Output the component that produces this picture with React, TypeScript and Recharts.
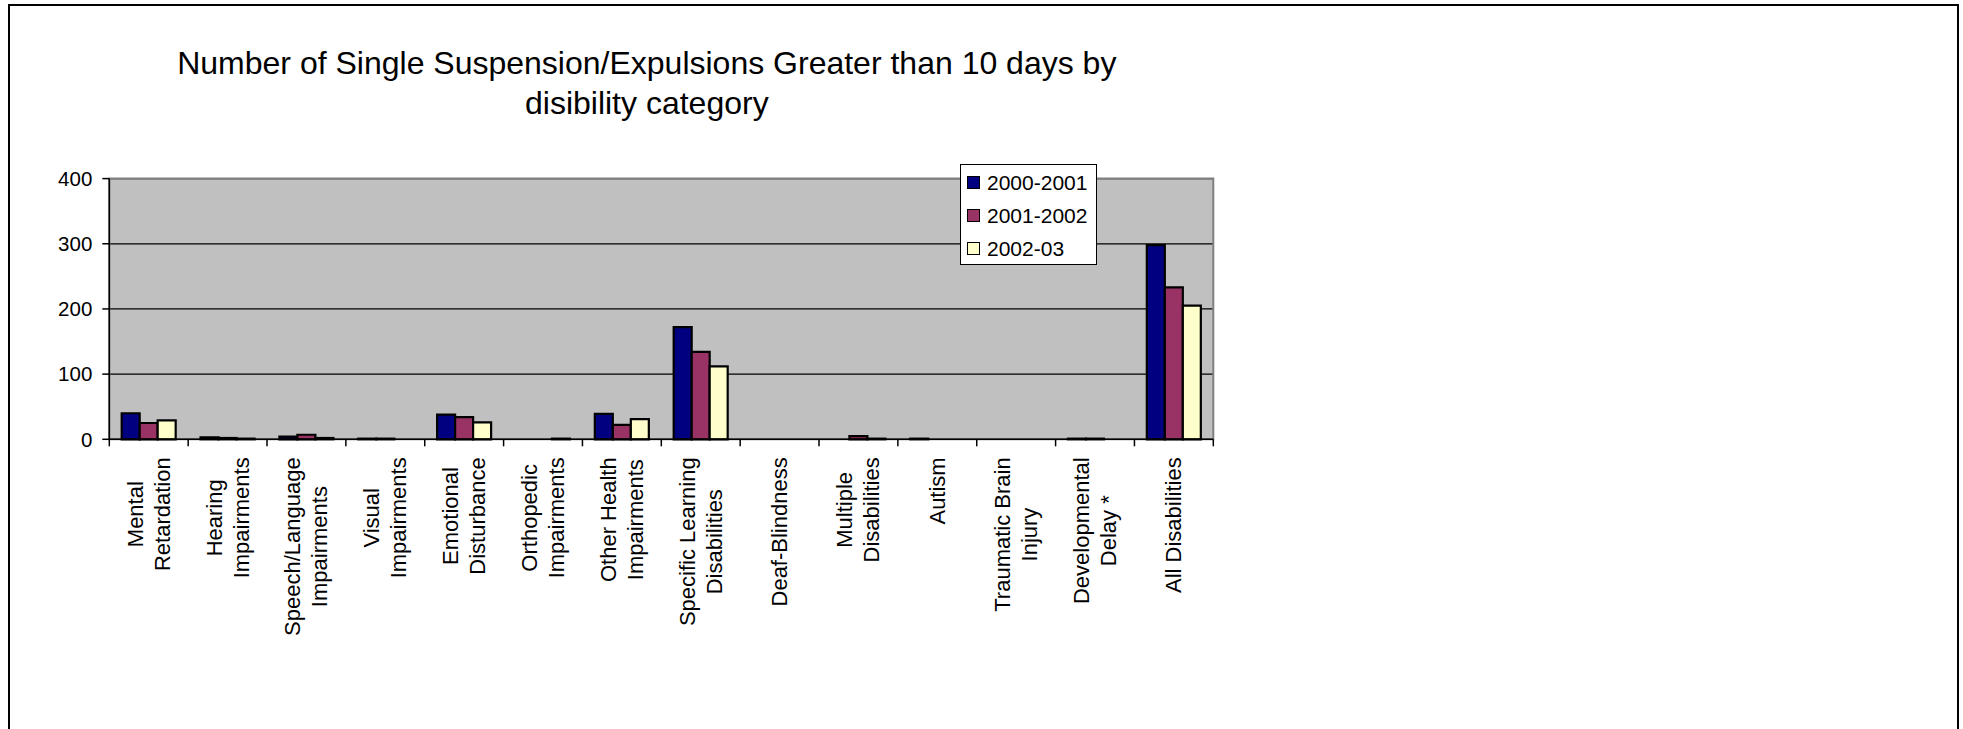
import React from "react";
import {
  BarChart,
  Bar,
  XAxis,
  YAxis,
  CartesianGrid,
  Legend,
  ReferenceArea,
} from "recharts";

// Disability categories (line breaks mark the wrapped axis labels)
const categories = [
  "Mental\nRetardation",
  "Hearing\nImpairments",
  "Speech/Language\nImpairments",
  "Visual\nImpairments",
  "Emotional\nDisturbance",
  "Orthopedic\nImpairments",
  "Other Health\nImpairments",
  "Specific Learning\nDisabilities",
  "Deaf-Blindness",
  "Multiple\nDisabilities",
  "Autism",
  "Traumatic Brain\nInjury",
  "Developmental\nDelay *",
  "All Disabilities",
];

const series2000 = [40, 3, 4, 1, 38, 0, 39, 172, 0, 0, 1, 0, 1, 298];
const series2001 = [25, 2, 7, 1, 34, 0, 22, 134, 0, 5, 0, 0, 1, 233];
const series2002 = [29, 1, 2, 0, 26, 1, 31, 112, 0, 1, 0, 0, 0, 205];

const seriesNames = ["2000-2001", "2001-2002", "2002-03"];
const yTicks = [0, 100, 200, 300, 400];

const titleLines = [
  "Number of Single Suspension/Expulsions Greater than 10 days by",
  "disibility category",
];

const data = categories.map((name, i) => ({
  name,
  s2000: series2000[i],
  s2001: series2001[i],
  s2002: series2002[i],
}));

// Layout
const W = 1963;
const H = 729;
const FONT = '"Liberation Sans", Arial, Helvetica, sans-serif';
const MARGIN = { top: 178.6, right: 749.7, bottom: 259.7, left: 49.3 };
const Y_AXIS_W = 60;
const X_AXIS_H = 30;
const PLOT_LEFT = MARGIN.left + Y_AXIS_W;
const PLOT_RIGHT = W - MARGIN.right;
const AXIS_Y = H - MARGIN.bottom - X_AXIS_H;
const BAND = (PLOT_RIGHT - PLOT_LEFT) / categories.length;

const LABEL_FONT = 22;
const LABEL_LINE = 27;
const LABEL_TOP = AXIS_Y + 18;

let measureCtx: CanvasRenderingContext2D | null = null;
function textWidth(s: string, size: number) {
  if (!measureCtx) {
    const c = document.createElement("canvas");
    measureCtx = c.getContext("2d");
  }
  if (!measureCtx) return s.length * size * 0.5;
  measureCtx.font = `${size}px "Liberation Sans", Arial, sans-serif`;
  return measureCtx.measureText(s).width;
}

function CategoryTick(props: any) {
  const { x, payload, index } = props;
  const lines = String(payload.value).split("\n");
  const maxW = Math.max(...lines.map((l) => textWidth(l, LABEL_FONT)));
  const cy = LABEL_TOP + maxW / 2;
  const n = lines.length;
  const left = x - BAND / 2;
  return (
    <g>
      <line x1={left} x2={left} y1={AXIS_Y} y2={AXIS_Y + 7} stroke="#000" strokeWidth={1.5} />
      {index === categories.length - 1 && (
        <line
          x1={left + BAND}
          x2={left + BAND}
          y1={AXIS_Y}
          y2={AXIS_Y + 7}
          stroke="#000"
          strokeWidth={1.5}
        />
      )}
      {lines.map((line, i) => {
        const sx = x + (i - (n - 1) / 2) * LABEL_LINE;
        return (
          <text
            key={i}
            x={sx}
            y={cy}
            transform={`rotate(-90 ${sx} ${cy})`}
            textAnchor="middle"
            dominantBaseline="central"
            fontSize={LABEL_FONT}
            fontFamily={FONT}
            fill="#000"
          >
            {line}
          </text>
        );
      })}
    </g>
  );
}

function LegendBox(props: any) {
  const items = props.payload || [];
  return (
    <div
      style={{
        width: 137,
        height: 101,
        boxSizing: "border-box",
        border: "1.5px solid #000",
        background: "#fff",
        paddingTop: 1,
        fontFamily: FONT,
        fontSize: 21,
        color: "#000",
      }}
    >
      {items.map((it: any) => (
        <div
          key={it.value}
          style={{ display: "flex", alignItems: "center", height: 33 }}
        >
          <span
            style={{
              display: "inline-block",
              width: 11,
              height: 11,
              marginLeft: 6,
              marginRight: 7,
              border: "1.5px solid #000",
              background: it.color,
            }}
          />
          <span>{it.value}</span>
        </div>
      ))}
    </div>
  );
}

export default function App() {
  return (
    <div
      style={{
        position: "absolute",
        left: 0,
        top: 0,
        width: W,
        height: H,
        overflow: "hidden",
        background: "#fff",
        fontFamily: FONT,
      }}
    >
      <div
        style={{
          position: "absolute",
          left: 8,
          top: 4,
          width: 1951,
          height: 900,
          boxSizing: "border-box",
          borderTop: "2px solid #000",
          borderLeft: "2px solid #000",
          borderRight: "2px solid #000",
        }}
      />
      <div
        style={{
          position: "absolute",
          left: 646.8 - 600,
          top: 42.6,
          width: 1200,
          textAlign: "center",
          fontSize: 32,
          lineHeight: "40px",
          color: "#000",
        }}
      >
        {titleLines.map((t) => (
          <div key={t}>{t}</div>
        ))}
      </div>
      <BarChart
        width={W}
        height={H}
        data={data}
        margin={MARGIN}
        barCategoryGap="15.7%"
        barGap={0}
        style={{ position: "absolute", left: 0, top: 0 }}
      >
        <CartesianGrid vertical={false} stroke="#000" strokeWidth={1.3} fill="#C0C0C0" fillOpacity={1} />
        <ReferenceArea y1={0} y2={400} fill="none" stroke="#808080" strokeWidth={2} />
        <XAxis
          dataKey="name"
          height={X_AXIS_H}
          interval={0}
          tickLine={false}
          tickSize={0}
          tick={<CategoryTick />}
          axisLine={{ stroke: "#000", strokeWidth: 1.5 }}
        />
        <YAxis
          width={Y_AXIS_W}
          domain={[0, 400]}
          ticks={yTicks}
          interval={0}
          tickSize={7}
          tickMargin={10}
          tickLine={{ stroke: "#000", strokeWidth: 1.5 }}
          axisLine={{ stroke: "#000", strokeWidth: 1.5 }}
          tick={{ fill: "#000", fontSize: 20.5, fontFamily: FONT }}
        />
        <Legend
          layout="vertical"
          align="center"
          verticalAlign="middle"
          content={<LegendBox />}
          wrapperStyle={{ left: 960, top: 164, width: 137, height: 101 }}
        />
        <Bar dataKey="s2000" name={seriesNames[0]} fill="#000080" stroke="#000" strokeWidth={2.2} isAnimationActive={false} />
        <Bar dataKey="s2001" name={seriesNames[1]} fill="#993366" stroke="#000" strokeWidth={2.2} isAnimationActive={false} />
        <Bar dataKey="s2002" name={seriesNames[2]} fill="#FFFFCC" stroke="#000" strokeWidth={2.2} isAnimationActive={false} />
      </BarChart>
    </div>
  );
}
